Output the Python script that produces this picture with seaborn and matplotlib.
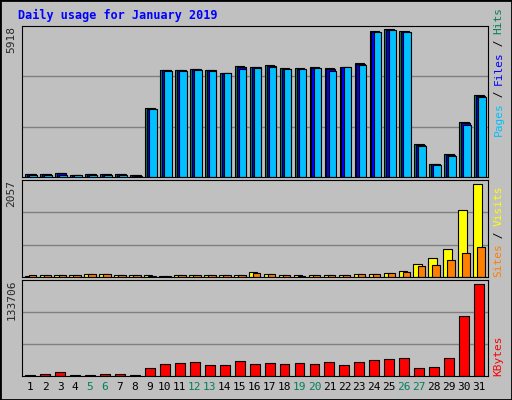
import numpy as np
import pandas as pd
import matplotlib
matplotlib.use("Agg")
import matplotlib.pyplot as plt
import seaborn as sns
from matplotlib.patches import Rectangle

days = list(range(1, 32))
hits = [120,120,175,95,135,135,135,95,2750,4275,4275,4315,4275,4170,4435,4395,4475,4355,4355,4395,4355,4395,4555,5840,5918,5840,1300,535,900,2185,3270]
files = [110,110,160,90,125,125,120,80,2720,4260,4260,4300,4260,4160,4400,4380,4450,4330,4330,4370,4300,4395,4530,5800,5880,5800,1270,520,880,2140,3230]
pages = [80,80,95,75,95,95,60,40,2700,4230,4230,4275,4230,4160,4310,4350,4390,4310,4300,4350,4230,4395,4470,5780,5860,5780,1250,480,840,2080,3200]
visits = [22,45,45,45,67,67,45,45,45,15,45,45,45,45,45,112,67,45,45,45,45,45,67,67,89,134,290,425,626,1497,2057]
sites = [45,45,45,45,67,67,45,45,20,15,45,45,45,45,45,82,67,45,20,45,45,45,67,67,89,112,246,268,380,536,670]
kbytes = [1470,2940,5880,1470,1470,2940,2940,1470,11760,17640,19110,20580,16170,16170,22050,17640,19110,17640,19110,17640,20580,16170,20580,23520,25000,26460,11760,13230,26460,88200,133706]
weekend = [5,6,12,13,19,20,26,27]

sns.set_style("white")
plt.rcParams['font.family'] = ['DejaVu Sans Mono']
BG = "#C0C0C0"
fig = plt.figure(figsize=(5.12, 4.0), dpi=100, facecolor=BG)
fig.patches.append(Rectangle((0, 0), 1, 1, transform=fig.transFigure, fill=False, edgecolor="black", lw=2))

L, W = 22/512, 466/512
ax1 = fig.add_axes([L, 1-177/400, W, 151/400])
ax2 = fig.add_axes([L, 1-277/400, W, 97/400])
ax3 = fig.add_axes([L, 1-376/400, W, 96/400])

d = np.array(days, dtype=float)

def bars(ax, vals, left, width, color):
    sns.barplot(x=d + left + width/2, y=vals, native_scale=True, width=width,
                color=color, edgecolor="black", linewidth=0.8, saturation=1, ax=ax)

bars(ax1, hits, -0.32, 0.63, "#00805C")
bars(ax1, files, -0.2, 0.6, "#0000FF")
bars(ax1, pages, -0.05, 0.5, "#00C0FF")
bars(ax2, visits, -0.38, 0.55, "#FFFF00")
bars(ax2, sites, -0.11, 0.5, "#FF8000")
bars(ax3, kbytes, -0.33, 0.66, "#FF0000")

for ax, top, lab in [(ax1, 5918*150/147, "5918"), (ax2, 2057*96/91.7, "2057"), (ax3, 133706*95/90.7, "133706")]:
    ax.set_facecolor(BG)
    ax.set_xlim(0.45, 31.6)
    ax.set_ylim(0, top)
    ax.set_yticks([top/3, 2*top/3])
    ax.set_yticklabels([])
    ax.tick_params(axis='y', length=0)
    ax.grid(axis='y', color="#808080", lw=1)
    ax.set_axisbelow(True)
    for s in ax.spines.values():
        s.set_color("black")
    ax.set_xlabel(""); ax.set_ylabel("")
    ax.text(-0.012, 1.0, lab, transform=ax.transAxes, rotation=90, ha='right', va='top', fontsize=8)
    if ax is not ax3:
        ax.set_xticks([])

ax3.set_xticks(days)
ax3.set_xticklabels([str(x) for x in days], fontsize=8)
ax3.tick_params(axis='x', length=0, pad=4)
for t, dd in zip(ax3.get_xticklabels(), days):
    t.set_color("#00805C" if dd in weekend else "black")

def rlabel(ax, parts, ystart):
    y = ystart
    for txt, col in parts:
        ax.text(1.012, y, txt, transform=ax.transAxes, rotation=90, ha='left', va='bottom',
                fontsize=8, color=col)
        y += len(txt) * 6.4 / (ax.get_position().height * 400)

rlabel(ax1, [("Pages", "#00C0FF"), (" / ", "black"), ("Files", "#0000FF"), (" / ", "black"), ("Hits", "#00805C")], 0.27)
rlabel(ax2, [("Sites", "#FF8000"), (" / ", "black"), ("Visits", "#FFFF00")], 0.0)
rlabel(ax3, [("KBytes", "#FF0000")], 0.0)

fig.text(18/512, 1-15/400, "Daily usage for January 2019", color="#0000FF", fontweight='bold', fontsize=8.5, va='center')

fig.savefig("out.png", dpi=100, facecolor=BG)
